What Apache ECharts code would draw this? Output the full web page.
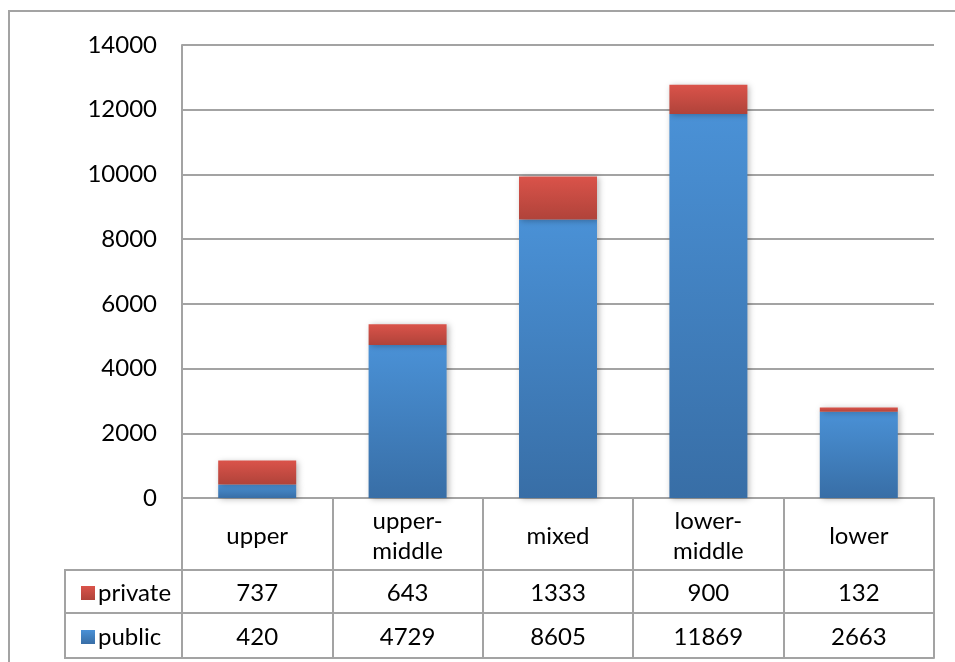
<!DOCTYPE html>
<html>
<head>
<meta charset="utf-8">
<script src="https://cdn.jsdelivr.net/npm/echarts@6/dist/echarts.min.js"></script>
<style>
  html, body { margin: 0; padding: 0; background: #fff; }
  #chart { width: 955px; height: 662px; }
</style>
</head>
<body>
<div id="chart"></div>
<script>
// Neighbourhood categories and school counts
const categories = ['upper', 'upper-\nmiddle', 'mixed', 'lower-\nmiddle', 'lower'];
const privateVals = [737, 643, 1333, 900, 132];
const publicVals = [420, 4729, 8605, 11869, 2663];
const yTicks = { min: 0, max: 14000, interval: 2000 };

const FONT = 'Lato, "DejaVu Sans", sans-serif';
const LINE = '#a3a3a3';
const FS = 24;

const chart = echarts.init(document.getElementById('chart'), null, { renderer: 'canvas' });

function grad(top, bottom) {
  return new echarts.graphic.LinearGradient(0, 0, 0, 1, [
    { offset: 0, color: top },
    { offset: 1, color: bottom }
  ]);
}

const blue = grad('#4a91d6', '#386ea6');
const red = grad('#da534a', '#b0433a');

const barShadow = {
  shadowBlur: 6,
  shadowColor: 'rgba(0,0,0,0.28)',
  shadowOffsetX: 2,
  shadowOffsetY: 1
};

const tableAxis = (values, offset, margin) => ({
  type: 'category',
  position: 'bottom',
  gridIndex: 0,
  offset: offset,
  data: values,
  axisLine: { show: true, lineStyle: { color: LINE, width: 2 } },
  axisTick: { show: false },
  axisLabel: {
    interval: 0,
    margin: margin,
    verticalAlign: 'middle',
    fontFamily: FONT,
    fontSize: FS,
    color: '#000'
  },
  splitLine: { show: false }
});

// one legend entry per table row, placed in the row's header cell
const rowLegend = (name, top) => ({
  orient: 'vertical',
  left: 76,
  top: top,
  itemWidth: 14,
  itemHeight: 14,
  icon: 'rect',
  data: [name],
  selectedMode: false,
  textStyle: { fontFamily: FONT, fontSize: FS, color: '#000', padding: [0, 0, 0, -2] }
});

const option = {
  backgroundColor: '#fff',
  animation: false,
  grid: { left: 182, right: 21, top: 45, bottom: 164, containLabel: false },
  legend: [rowLegend('private', 576), rowLegend('public', 620)],
  xAxis: [
    {
      type: 'category',
      position: 'bottom',
      data: categories,
      axisLine: { show: true, lineStyle: { color: LINE, width: 2 } },
      axisTick: { show: true, length: 160, interval: 0, lineStyle: { color: LINE, width: 2 } },
      axisLabel: {
        interval: 0,
        margin: 38,
        verticalAlign: 'middle',
        lineHeight: 30,
        fontFamily: FONT,
        fontSize: FS,
        color: '#000'
      },
      splitLine: { show: false }
    },
    tableAxis(privateVals.map(String), 72, 23),
    tableAxis(publicVals.map(String), 115, 24),
    Object.assign(tableAxis(categories, 160, 0), { axisLabel: { show: false } })
  ],
  yAxis: {
    type: 'value',
    min: yTicks.min,
    max: yTicks.max,
    interval: yTicks.interval,
    axisLine: { show: true, lineStyle: { color: LINE, width: 2 } },
    axisTick: { show: false },
    axisLabel: {
      margin: 25,
      fontFamily: FONT,
      fontSize: FS,
      color: '#000',
      formatter: (v) => String(v)
    },
    splitLine: { show: true, lineStyle: { color: LINE, width: 2 } }
  },
  series: [
    {
      name: 'public',
      type: 'bar',
      stack: 'total',
      barWidth: 78,
      data: publicVals,
      itemStyle: Object.assign({ color: blue }, barShadow)
    },
    {
      name: 'private',
      type: 'bar',
      stack: 'total',
      barWidth: 78,
      data: privateVals,
      itemStyle: Object.assign({ color: red }, barShadow)
    }
  ],
  graphic: [
    // outer frame
    {
      type: 'polyline',
      shape: { points: [[9, 662], [9, 11], [955, 11]] },
      style: { stroke: LINE, lineWidth: 2, fill: null }
    },
    // series-name column of the data table
    {
      type: 'polyline',
      shape: { points: [[182, 570], [65, 570], [65, 658], [182, 658]] },
      style: { stroke: LINE, lineWidth: 2, fill: null }
    },
    {
      type: 'line',
      shape: { x1: 65, y1: 613, x2: 182, y2: 613 },
      style: { stroke: LINE, lineWidth: 2 }
    }
  ]
};

chart.setOption(option);
</script>
</body>
</html>
